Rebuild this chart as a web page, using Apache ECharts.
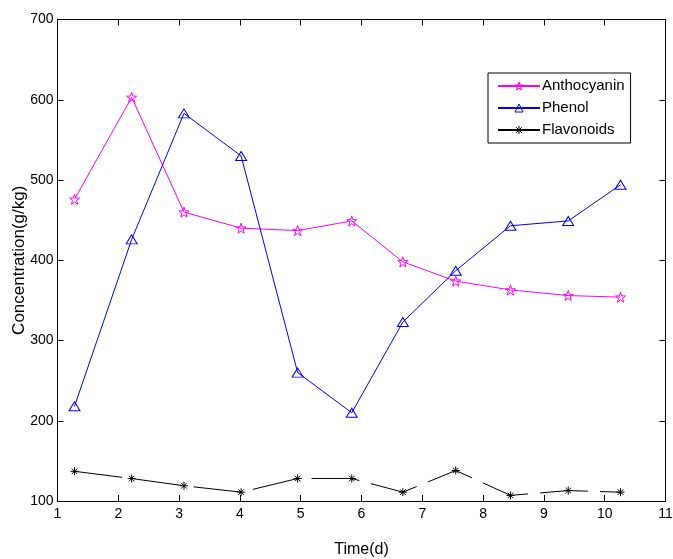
<!DOCTYPE html>
<html><head><meta charset="utf-8">
<script src="https://cdn.jsdelivr.net/npm/echarts@6/dist/echarts.min.js"></script>
<style>html,body{margin:0;padding:0;background:#fff}#c{width:673px;height:559px}</style>
</head><body><div id="c"></div>
<script>
var timeDays = [1.28, 2.22, 3.08, 4.02, 4.95, 5.84, 6.68, 7.55, 8.45, 9.40, 10.26];
var anthocyanin = [476, 603, 460, 440, 437, 449, 398, 374, 363, 356, 354];
var phenol = [218, 426, 583, 530, 260, 210, 323, 387, 443, 449, 494];
var flavonoids = [137, 128, 119, 111, 128, 128, 111, 138, 107, 113, 111];
var seriesNames = ['Anthocyanin', 'Phenol', 'Flavonoids'];
var xTicks = [1, 2, 3, 4, 5, 6, 7, 8, 9, 10, 11];
var yTicks = [100, 200, 300, 400, 500, 600, 700];

function pairs(xs, ys){ return xs.map(function(x,i){ return [x, ys[i]]; }); }

var starPath = 'path://M0,-10L2.35,-3.24L9.51,-3.09L3.8,1.24L5.88,8.09L0,4L-5.88,8.09L-3.8,1.24L-9.51,-3.09L-2.35,-3.24Z';
var asteriskPath = 'path://M0,-5L0,5M-5,0L5,0M-3.5,-3.5L3.5,3.5M-3.5,3.5L3.5,-3.5';
var font = 'Liberation Sans, Arial, Helvetica, sans-serif';

var chart = echarts.init(document.getElementById('c'), null, {renderer:'canvas'});
var axisCommon = {
  min: xTicks[0], max: xTicks[xTicks.length-1], interval: 1,
  axisLine: {show: true, onZero: false, lineStyle: {color: '#000', width: 1}},
  axisTick: {show: true, inside: true, length: 6, lineStyle: {color: '#000'}},
  splitLine: {show: false}
};
var yCommon = {
  min: yTicks[0], max: yTicks[yTicks.length-1], interval: 100,
  axisLine: {show: true, onZero: false, lineStyle: {color: '#000', width: 1}},
  axisTick: {show: true, inside: true, length: 6, lineStyle: {color: '#000'}},
  splitLine: {show: false}
};
chart.setOption({
  animation: false,
  backgroundColor: '#fff',
  grid: {left: 57.5, right: 7.5, top: 19.5, bottom: 58, containLabel: false, outerBoundsMode: 'none'},
  legend: {
    orient: 'vertical', left: 488, top: 73,
    data: seriesNames,
    itemWidth: 42, itemHeight: 10, itemGap: 6,
    padding: [5, 6, 5, 9],
    borderColor: '#000', borderWidth: 1, backgroundColor: '#fff',
    itemStyle: {color: 'rgba(255,255,255,0)', borderWidth: 1},
    textStyle: {fontFamily: font, fontSize: 15, color: '#000', padding: [0,0,0,-3], lineHeight: 16}
  },
  xAxis: [
    Object.assign({}, axisCommon, {
      type: 'value', position: 'bottom',
      name: 'Time(d)', nameLocation: 'middle', nameGap: 41,
      nameTextStyle: {fontFamily: font, fontSize: 16, color: '#000'},
      axisLabel: {show: true, margin: 6, fontFamily: font, fontSize: 14, color: '#000'}
    }),
    Object.assign({}, axisCommon, {
      type: 'value', position: 'top', axisLabel: {show: false}
    })
  ],
  yAxis: [
    Object.assign({}, yCommon, {
      type: 'value', position: 'left',
      name: 'Concentration(g/kg)', nameLocation: 'middle', nameGap: 30, nameRotate: 90,
      nameMoveOverlap: false,
      nameTextStyle: {fontFamily: font, fontSize: 17, color: '#000'},
      axisLabel: {show: true, margin: 4, fontFamily: font, fontSize: 14, color: '#000'}
    }),
    Object.assign({}, yCommon, {
      type: 'value', position: 'right', axisLabel: {show: false}
    })
  ],
  series: [
    {
      name: seriesNames[0], type: 'line', xAxisIndex: 0, yAxisIndex: 0,
      data: pairs(timeDays, anthocyanin),
      color: '#ff00ff',
      symbol: starPath, symbolSize: 10, showAllSymbol: true,
      lineStyle: {color: '#ff00ff', width: 1},
      itemStyle: {color: 'rgba(255,255,255,0)', borderColor: '#ff00ff', borderWidth: 1}
    },
    {
      name: seriesNames[1], type: 'line', xAxisIndex: 0, yAxisIndex: 0,
      data: pairs(timeDays, phenol),
      color: '#0000ff',
      symbol: 'triangle', symbolSize: [11, 9], showAllSymbol: true,
      lineStyle: {color: '#0000ff', width: 1},
      itemStyle: {color: 'rgba(255,255,255,0)', borderColor: '#0000ff', borderWidth: 1}
    },
    {
      name: seriesNames[2], type: 'line', xAxisIndex: 0, yAxisIndex: 0,
      data: pairs(timeDays, flavonoids),
      color: '#000000',
      symbol: asteriskPath, symbolSize: 8, showAllSymbol: true,
      lineStyle: {color: '#000', width: 1, type: [48, 12]},
      itemStyle: {color: 'rgba(0,0,0,0)', borderColor: '#000', borderWidth: 1}
    }
  ]
});
</script></body></html>
